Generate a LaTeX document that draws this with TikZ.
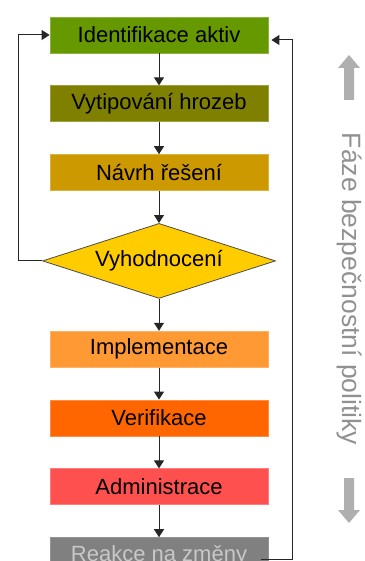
\documentclass[tikz,border=0pt]{standalone}
\usepackage{fontspec}
\setmainfont{Liberation Sans}
\usetikzlibrary{positioning,shapes.geometric,arrows.meta}
\definecolor{zelena}{RGB}{102,153,0}
\definecolor{olivova}{RGB}{128,128,0}
\definecolor{okrova}{RGB}{204,153,0}
\definecolor{zluta}{RGB}{255,204,0}
\definecolor{svoranz}{RGB}{255,153,51}
\definecolor{oranz}{RGB}{255,102,0}
\definecolor{cervena}{RGB}{255,80,80}
\definecolor{sedybox}{RGB}{128,128,128}
\definecolor{svseda}{RGB}{200,200,200}
\definecolor{seda}{RGB}{145,145,145}
\definecolor{sedasipka}{RGB}{175,175,175}
\begin{document}
\begin{tikzpicture}[x=1pt, y=-1pt,
		krok/.style={rectangle,minimum width=218pt,minimum height=36pt,inner sep=0pt,line width=0.8pt,font=\fontsize{22}{26}\selectfont},
		rozhod/.style={diamond,aspect=3.1,minimum width=233pt,minimum height=75pt,inner sep=0pt,font=\fontsize{22}{26}\selectfont},
		sipka/.style={-{Triangle[width=10pt,length=8pt]},black!85,line width=1pt},
		node distance=32pt
		]
	\useasboundingbox (0,0) rectangle (364,561);
	\node [krok,fill=zelena,draw=zelena!75!white] (ident) at (159,35) {Identifikace aktiv};
	\node [krok,fill=olivova,draw=olivova!75!white,below=of ident] (vytip) {Vytipování hrozeb};
	\node [krok,fill=okrova,draw=okrova!75!white,below=of vytip] (navrh) {Návrh řešení};
	\node [rozhod,fill=zluta,draw=black!70,line width=0.8pt,below=of navrh] (vyhod) {Vyhodnocení};
	\node [krok,fill=svoranz,draw=svoranz!75!white,below=of vyhod] (impl) {Implementace};
	\node [krok,fill=oranz,draw=oranz!75!white,below=of impl] (verif) {Verifikace};
	\node [krok,fill=cervena,draw=cervena!75!white,below=of verif] (admin) {Administrace};
	\node [krok,fill=sedybox,draw=sedybox!85!white,text=svseda,below=of admin] (reakce) {\raisebox{3pt}{Reakce na změny}};

	\draw [sipka] (ident) -- (vytip);
	\draw [sipka] (vytip) -- (navrh);
	\draw [sipka] (navrh) -- (vyhod);
	\draw [sipka] (vyhod) -- (impl);
	\draw [sipka] (impl) -- (verif);
	\draw [sipka] (verif) -- (admin);
	\draw [sipka] (admin) -- (reakce);

	\coordinate (vlevo) at (18,0);
	\coordinate (vpravo) at (292,40);
	\draw [sipka] (vyhod.west) -- (vyhod.west -| vlevo) |- (ident.west);
	\draw [sipka] ([shift={(-7,4)}]reakce.east) -| (vpravo) -- ([shift={(3,5)}]ident.east);

	\node [rotate=-90,anchor=base,text=seda,font=\fontsize{26.5}{30}\selectfont] (faze) at (342,289) {Fáze bezpečnostní politiky};
	\fill [sedasipka] (344,100) -- (344,68) -- (338,68) -- (349,55) -- (360,68) -- (354,68) -- (354,100) -- cycle;
	\fill [sedasipka] (344,478) -- (344,510) -- (338,510) -- (349,523) -- (360,510) -- (354,510) -- (354,478) -- cycle;
\end{tikzpicture}
\end{document}
